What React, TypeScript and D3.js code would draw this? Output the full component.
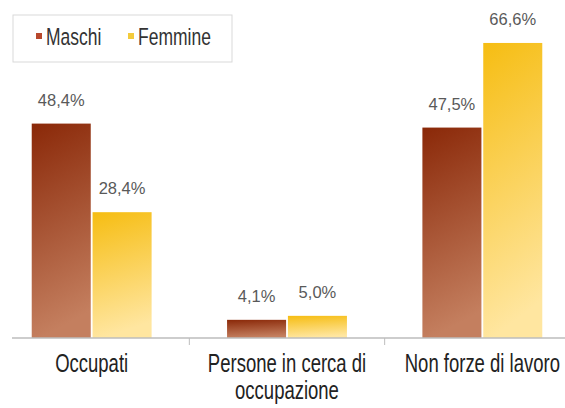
import React from "react";
import * as d3 from "d3";

const W = 565;
const H = 408;
const BASE = 338;

const categories = ["Occupati", "Persone in cerca di occupazione", "Non forze di lavoro"];
const categoryLines = [["Occupati"], ["Persone in cerca di", "occupazione"], ["Non forze di lavoro"]];
const seriesNames = ["Maschi", "Femmine"];
const maschi = [48.4, 4.1, 47.5];
const femmine = [28.4, 5.0, 66.6];

const itFormat = d3.formatLocale({ decimal: ",", thousands: ".", grouping: [3], currency: ["€", ""] }).format(".1f");

const GRAD = {
  Maschi: ["#8a2808", "#c47f5f"],
  Femmine: ["#f6bd12", "#ffe6a0"],
};
const LEGEND_COLOR = { Maschi: "#b8482c", Femmine: "#f3cb3c" };
const FONT = "Liberation Sans, Arial, sans-serif";

const App = () => {
  const xScale = d3.scaleBand().domain(categories).range([-6, 580]).padding(0);
  const xInner = d3
    .scaleBand()
    .domain(seriesNames)
    .range([0, xScale.bandwidth()])
    .paddingInner(0.03)
    .paddingOuter(0.62);
  const yScale = d3.scaleLinear().domain([0, 70]).range([BASE, BASE - 70 * 4.43]);

  const rows = categories.map((c, i) => ({ cat: c, Maschi: maschi[i], Femmine: femmine[i] }));
  const boundaries = categories.slice(1).map((c) => xScale(c) as number);
  const legendX = { Maschi: 36, Femmine: 128 };

  return (
    <svg width={W} height={H} style={{ position: "absolute", left: 0, top: 0, background: "#fff" }}>
      <defs>
        {seriesNames.map((s) => (
          <linearGradient key={s} id={`grad-${s}`} x1="0" y1="0" x2="0.15" y2="1">
            <stop offset="0%" stopColor={GRAD[s][0]} />
            <stop offset="100%" stopColor={GRAD[s][1]} />
          </linearGradient>
        ))}
      </defs>

      {/* legend */}
      <rect x={13} y={15} width={219} height={47} fill="#fff" stroke="#d9d9d9" />
      {seriesNames.map((s) => {
        const lx = legendX[s];
        return (
          <g key={s}>
            <rect x={lx} y={33} width={6} height={6} fill={LEGEND_COLOR[s]} />
            <text transform={`translate(${lx + 10},45) scale(1,1.33)`} fontFamily={FONT} fontSize={17.5} fill="#333">
              {s}
            </text>
          </g>
        );
      })}

      {/* bars */}
      {rows.map((r) => (
        <g key={r.cat} transform={`translate(${xScale(r.cat)},0)`}>
          {seriesNames.map((s) => {
            const v = r[s] as number;
            const x = xInner(s) as number;
            return (
              <g key={s}>
                <rect x={x} y={yScale(v)} width={xInner.bandwidth()} height={BASE - yScale(v)} fill={`url(#grad-${s})`} />
                <text
                  x={x + xInner.bandwidth() / 2}
                  y={yScale(v) - 18}
                  textAnchor="middle"
                  fontFamily={FONT}
                  fontSize={16.5}
                  fill="#595959"
                >
                  {itFormat(v) + "%"}
                </text>
              </g>
            );
          })}
        </g>
      ))}

      {/* axis */}
      <line x1={12} x2={W} y1={BASE} y2={BASE} stroke="#bdbdbd" strokeWidth={1.5} />
      {boundaries.map((b, i) => (
        <line key={i} x1={b} x2={b} y1={BASE} y2={BASE + 7} stroke="#bdbdbd" />
      ))}
      {categories.map((c, i) => {
        const cx = (xScale(c) as number) + xScale.bandwidth() / 2;
        return categoryLines[i].map((l, j) => (
          <text
            key={c + j}
            transform={`translate(${cx},${372 + j * 27}) scale(1,1.38)`}
            textAnchor="middle"
            fontFamily={FONT}
            fontSize={18.5}
            fill="#222"
          >
            {l}
          </text>
        ));
      })}
    </svg>
  );
};

export default App;
